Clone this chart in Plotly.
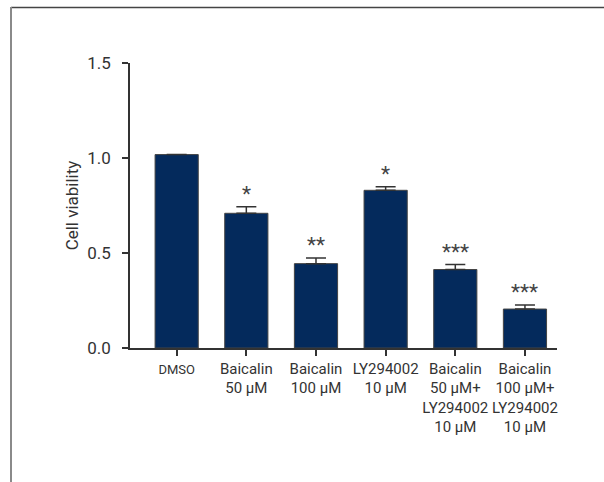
import plotly.graph_objects as go

# Cell viability per treatment group
groups = ["DMSO", "Baicalin<br>50 µM", "Baicalin<br>100 µM", "LY294002<br>10 µM",
          "Baicalin<br>50 µM+<br>LY294002<br>10 µM",
          "Baicalin<br>100 µM+<br>LY294002<br>10 µM"]
viability = [1.018, 0.709, 0.444, 0.830, 0.413, 0.205]
sem = [0.0, 0.035, 0.030, 0.019, 0.026, 0.021]
stars = ["", "*", "**", "*", "***", "***"]

FONT = "Roboto, Liberation Sans, sans-serif"
TXT = "#333333"

x = list(range(len(groups)))
ticktext = ['<span style="font-size:13px">DMSO</span>'] + groups[1:]

fig = go.Figure()
fig.add_trace(go.Bar(
    x=x, y=viability, width=0.62,
    marker=dict(color="#042a5c", line=dict(color="#444444", width=1)),
    error_y=dict(type="data", symmetric=False, array=sem,
                 arrayminus=[0] * len(sem), color="#333333",
                 thickness=1.5, width=10, visible=True),
    showlegend=False,
))

for xi, v, e, s in zip(x, viability, sem, stars):
    if s:
        fig.add_annotation(x=xi, y=v + e, text=s, showarrow=False,
                           yanchor="middle", yshift=13,
                           font=dict(family=FONT, size=21, color="#444444"))

L, R, T, B = 130, 47, 63, 134
W, H = 604, 482
pw, ph = W - L - R, H - T - B

def px(xp):
    return (xp - L) / pw

def py(yp):
    return (H - B - yp) / ph

# outer frame: top and left edges
fig.add_shape(type="line", xref="paper", yref="paper",
              x0=px(11), x1=px(610), y0=py(7.5), y1=py(7.5),
              line=dict(color="#444444", width=1.5))
fig.add_shape(type="line", xref="paper", yref="paper",
              x0=px(11), x1=px(11), y0=py(7), y1=py(490),
              line=dict(color="#8a8a8a", width=2))

fig.update_layout(
    width=W, height=H,
    margin=dict(l=L, r=R, t=T, b=B),
    plot_bgcolor="white", paper_bgcolor="white",
    font=dict(family=FONT, size=15, color=TXT),
    xaxis=dict(range=[-0.67, 5.46], tickvals=x, ticktext=ticktext,
               showline=True, linecolor="#333333", linewidth=1.5,
               ticks="outside", ticklen=6, tickwidth=1.5, tickcolor="#333333",
               showgrid=False, zeroline=False, tickangle=0,
               tickfont=dict(size=15, color=TXT)),
    yaxis=dict(range=[0, 1.5], tickvals=[0, 0.5, 1.0, 1.5],
               ticktext=["0.0", "0.5", "1.0", "1.5"],
               showline=True, linecolor="#333333", linewidth=1.5,
               ticks="outside", ticklen=6, tickwidth=1.5, tickcolor="#333333",
               showgrid=False, zeroline=False, ticklabelstandoff=8,
               tickfont=dict(size=17, color=TXT),
               title=dict(text="Cell viability", standoff=4,
                          font=dict(size=17, color=TXT))),
)

fig.write_html("out.html")
